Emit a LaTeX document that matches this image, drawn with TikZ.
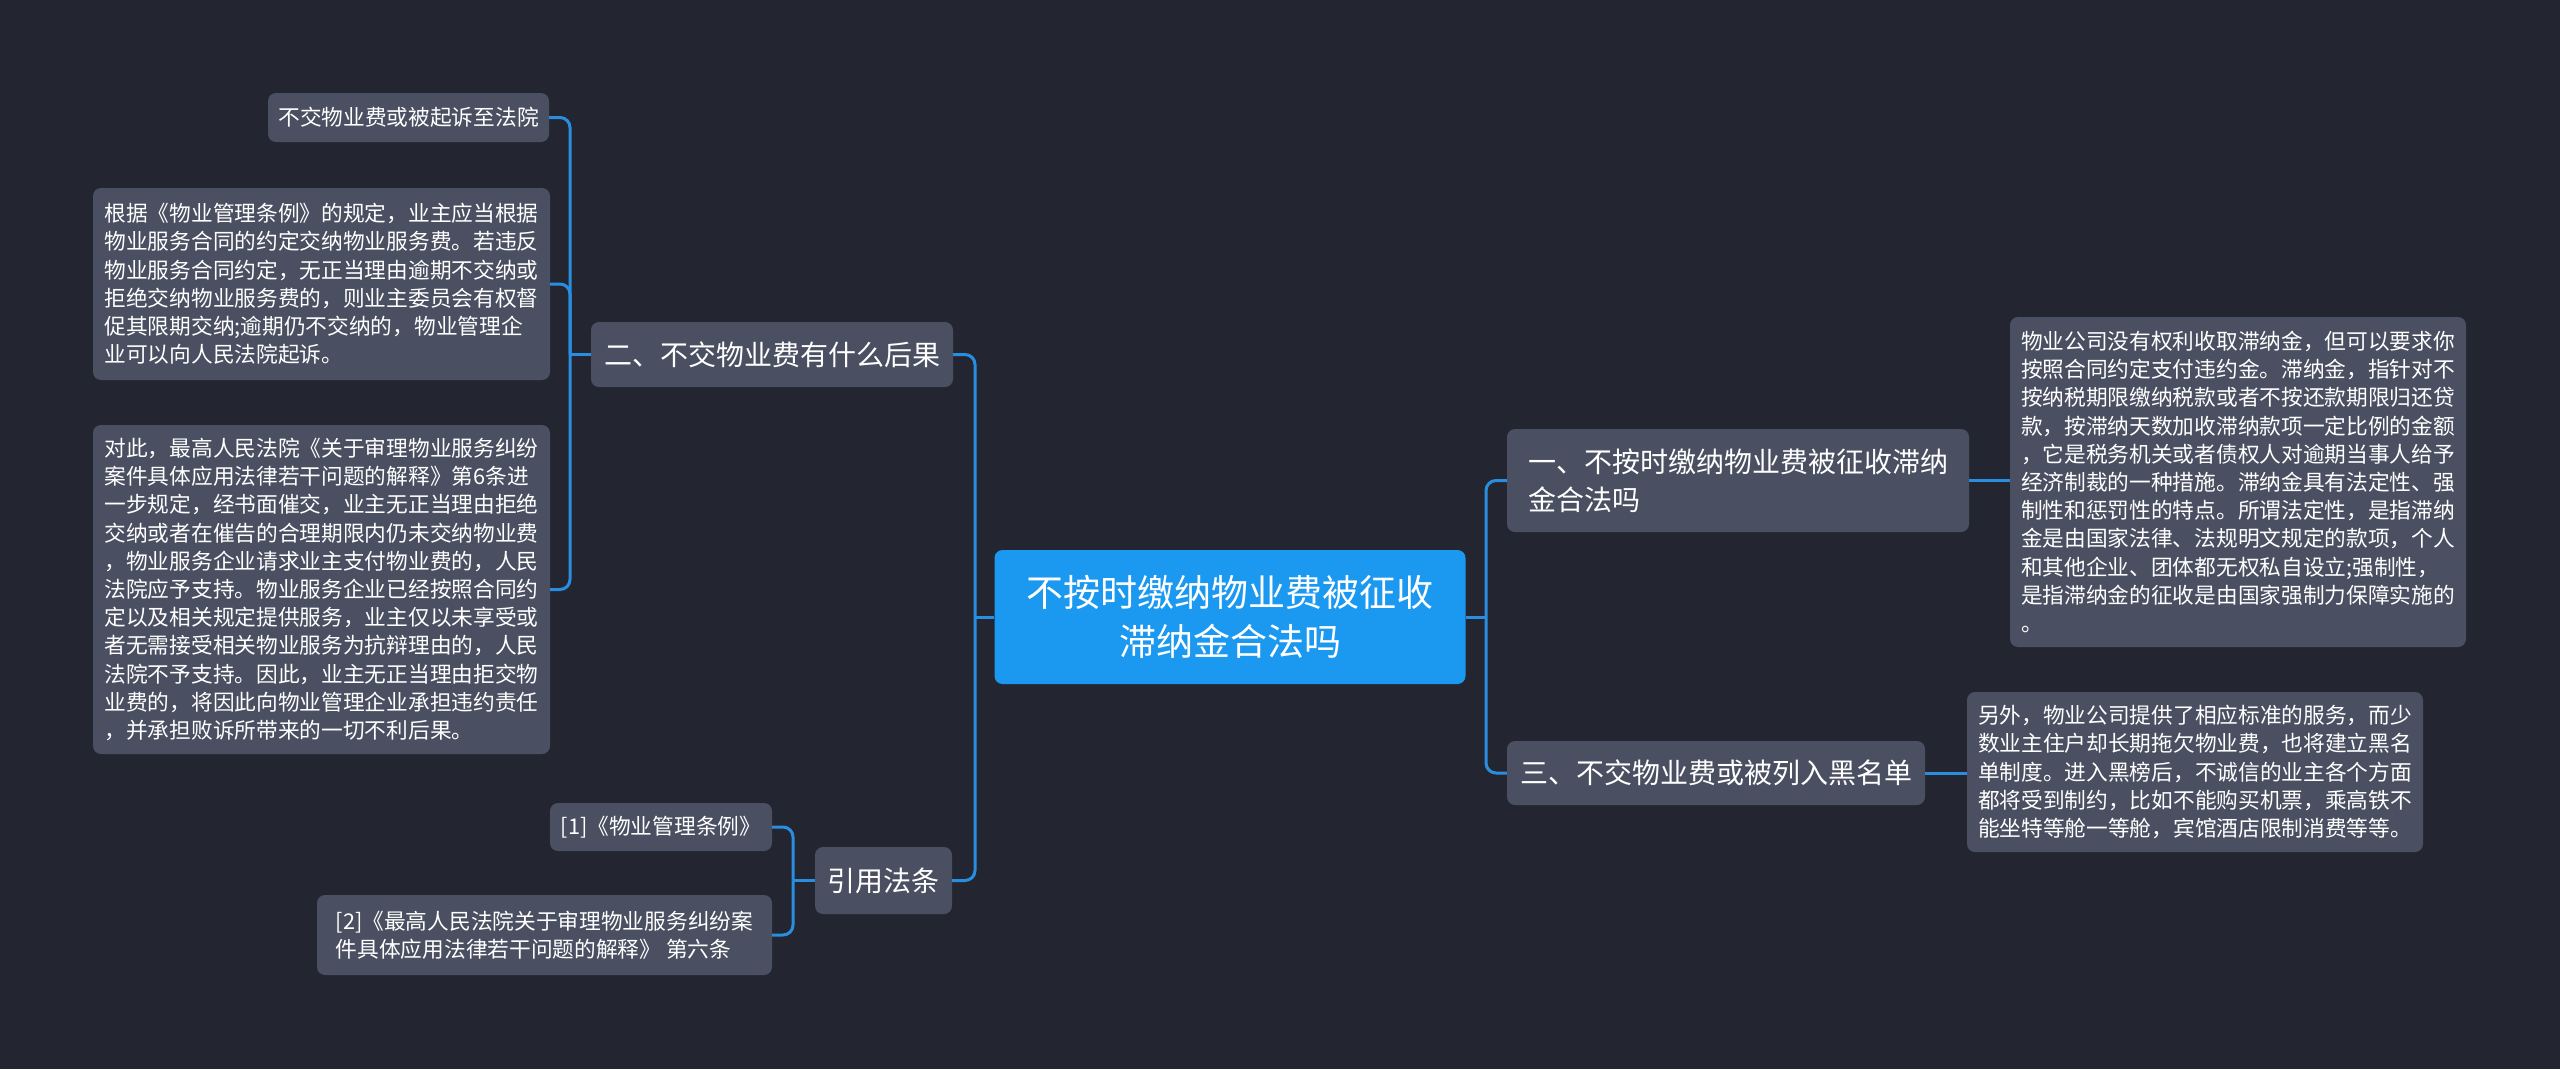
\documentclass[tikz,border=0pt]{standalone}
\usepackage{fontspec}
\setmainfont{Noto Sans CJK SC}
\definecolor{bgdark}{HTML}{232630}
\definecolor{boxgray}{HTML}{4A5061}
\definecolor{rootblue}{HTML}{1B98F0}
\definecolor{linkblue}{HTML}{2A8EE0}
\tikzset{
  rootbox/.style={fill=rootblue, text=white, rounded corners=8pt, align=center,
    font=\fontsize{37}{49}\selectfont, inner sep=0pt},
  topicbox/.style={fill=boxgray, text=white, rounded corners=8pt, align=left,
    font=\fontsize{28}{38}\selectfont, inner sep=0pt},
  leafbox/.style={fill=boxgray, text=white, rounded corners=8pt, align=left,
    font=\fontsize{21.7}{28.2}\selectfont, inner sep=0pt},
  link/.style={draw=linkblue, line width=3pt, rounded corners=10pt},
}
\begin{document}
\begin{tikzpicture}[x=1pt, y=-1pt]
    \fill[bgdark] (0,0) rectangle (2560,1069);

    \node[rootbox, minimum width=471pt, minimum height=134pt] (root) at (1230,617)
        {不按时缴纳物业费被征收\\滞纳金合法吗};

    \node[topicbox, minimum width=362pt, minimum height=65pt] (q2) at (772,354.5)
        {二、不交物业费有什么后果};
    \node[topicbox, minimum width=137pt, minimum height=67pt] (refs) at (883.5,880.5)
        {引用法条};
    \node[topicbox, minimum width=462pt, minimum height=103pt] (q1) at (1738,480.5)
        {一、不按时缴纳物业费被征收滞纳\\金合法吗};
    \node[topicbox, minimum width=418pt, minimum height=64pt] (q3) at (1716,773)
        {三、不交物业费或被列入黑名单};

    \node[leafbox, minimum width=281pt, minimum height=49pt] (q2a) at (408.5,117.5)
        {不交物业费或被起诉至法院};
    \node[leafbox, minimum width=457pt, minimum height=192pt] (q2b) at (321.5,284)
        {根据《物业管理条例》的规定，业主应当根据\\
         物业服务合同的约定交纳物业服务费。若违反\\
         物业服务合同约定，无正当理由逾期不交纳或\\
         拒绝交纳物业服务费的，则业主委员会有权督\\
         促其限期交纳;逾期仍不交纳的，物业管理企\\
         业可以向人民法院起诉。};
    \node[leafbox, minimum width=457pt, minimum height=329pt] (q2c) at (321.5,589.5)
        {对此，最高人民法院《关于审理物业服务纠纷\\
         案件具体应用法律若干问题的解释》第6条进\\
         一步规定，经书面催交，业主无正当理由拒绝\\
         交纳或者在催告的合理期限内仍未交纳物业费\\
         ，物业服务企业请求业主支付物业费的，人民\\
         法院应予支持。物业服务企业已经按照合同约\\
         定以及相关规定提供服务，业主仅以未享受或\\
         者无需接受相关物业服务为抗辩理由的，人民\\
         法院不予支持。因此，业主无正当理由拒交物\\
         业费的，将因此向物业管理企业承担违约责任\\
         ，并承担败诉所带来的一切不利后果。};

    \node[leafbox, minimum width=222pt, minimum height=48pt] (refa) at (661,827)
        {[1]《物业管理条例》};
    \node[leafbox, minimum width=455pt, minimum height=80pt] (refb) at (544.5,935)
        {[2]《最高人民法院关于审理物业服务纠纷案\\
         件具体应用法律若干问题的解释》 第六条};

    \node[leafbox, minimum width=456pt, minimum height=330pt] (q1a) at (2238,482)
        {物业公司没有权利收取滞纳金，但可以要求你\\
         按照合同约定支付违约金。滞纳金，指针对不\\
         按纳税期限缴纳税款或者不按还款期限归还贷\\
         款，按滞纳天数加收滞纳款项一定比例的金额\\
         ，它是税务机关或者债权人对逾期当事人给予\\
         经济制裁的一种措施。滞纳金具有法定性、强\\
         制性和惩罚性的特点。所谓法定性，是指滞纳\\
         金是由国家法律、法规明文规定的款项，个人\\
         和其他企业、团体都无权私自设立;强制性，\\
         是指滞纳金的征收是由国家强制力保障实施的\\
         。};
    \node[leafbox, minimum width=456pt, minimum height=160pt] (q3a) at (2195,772)
        {另外，物业公司提供了相应标准的服务，而少\\
         数业主住户却长期拖欠物业费，也将建立黑名\\
         单制度。进入黑榜后，不诚信的业主各个方面\\
         都将受到制约，比如不能购买机票，乘高铁不\\
         能坐特等舱一等舱，宾馆酒店限制消费等等。};

    \coordinate (lfork) at (975,617);
    \coordinate (rfork) at (1486,617);
    \coordinate (q2fork) at (570,354.5);
    \coordinate (refsfork) at (793,880.5);

    \draw[link] (root.west) -- (lfork);
    \draw[link] (lfork) |- (q2.east);
    \draw[link] (lfork) |- (refs.east);
    \draw[link] (root.east) -- (rfork);
    \draw[link] (rfork) |- (q1.west);
    \draw[link] (rfork) |- (q3.west);

    \draw[link] (q2.west) -- (q2fork);
    \draw[link] (q2fork) |- (q2a.east);
    \draw[link] (q2fork) |- (q2b.east);
    \draw[link] (q2fork) |- (q2c.east);

    \draw[link] (refs.west) -- (refsfork);
    \draw[link] (refsfork) |- (refa.east);
    \draw[link] (refsfork) |- (refb.east);

    \draw[link] (q1.east) -- (q1.east -| q1a.west);
    \draw[link] (q3.east) -- (q3.east -| q3a.west);
\end{tikzpicture}
\end{document}
